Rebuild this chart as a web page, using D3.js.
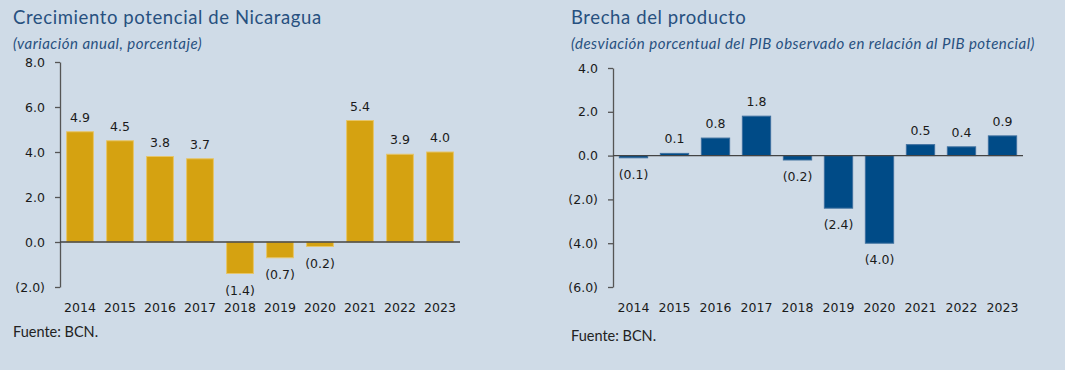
<!DOCTYPE html>
<html>
<head>
<meta charset="utf-8">
<script src="https://cdn.jsdelivr.net/npm/d3@7"></script>
<style>
  html, body { margin: 0; padding: 0; background: #cfdbe7; }
  svg { display: block; }
</style>
</head>
<body>
<div id="wrapper"></div>
<script>
const years = ["2014", "2015", "2016", "2017", "2018", "2019", "2020", "2021", "2022", "2023"]
const potentialGrowth = [4.9, 4.5, 3.8, 3.7, -1.4, -0.7, -0.2, 5.4, 3.9, 4.0]
const outputGap = [-0.1, 0.1, 0.8, 1.8, -0.2, -2.4, -4.0, 0.5, 0.4, 0.9]
const growthTicks = [8, 6, 4, 2, 0, -2]
const gapTicks = [4, 2, 0, -2, -4, -6]

window.addEventListener("load", paint)

function paint() {
    const svg = d3.select("#wrapper")
        .append("svg")
            .attr("width", 1065)
            .attr("height", 370)

    svg.append("rect").attr("width", 1065).attr("height", 370).attr("fill", "#cfdbe7")

    drawPanel(svg, {
        title: "Crecimiento potencial de Nicaragua",
        subtitle: "(variación anual, porcentaje)",
        values: potentialGrowth, ticks: growthTicks,
        domain: [-2, 8], textX: 13,
        x0: 60, x1: 460, yTop: 62, yBottom: 287,
        padding: 0.33, color: "#d5a211", edge: "#e6c56a",
        sourceY: 337
    })

    drawPanel(svg, {
        title: "Brecha del producto",
        subtitle: "(desviación porcentual del PIB observado en relación al PIB potencial)",
        values: outputGap, ticks: gapTicks,
        domain: [-6, 4], textX: 571,
        x0: 613, x1: 1023, yTop: 68, yBottom: 287,
        padding: 0.31, color: "#004b87", edge: "#3d6f9e",
        sourceY: 341
    })
}

function fmt(v) {
    return v < 0 ? "(" + d3.format(".1f")(-v) + ")" : d3.format(".1f")(v)
}

function drawPanel(svg, p) {
    const g = svg.append("g")

    g.append("text")
        .attr("x", p.textX).attr("y", 24)
        .attr("font-family", "Lato, sans-serif").attr("font-size", 18.5)
        .attr("letter-spacing", 0.6)
        .attr("fill", "#27507f")
        .text(p.title)

    g.append("text")
        .attr("x", p.textX).attr("y", 49)
        .attr("font-family", "Lato, sans-serif").attr("font-size", 15)
        .attr("font-style", "italic").attr("letter-spacing", 0.5)
        .attr("fill", "#27507f")
        .text(p.subtitle)

    const x = d3.scaleBand().domain(years).range([p.x0, p.x1]).paddingInner(p.padding).paddingOuter(p.padding / 2)
    const y = d3.scaleLinear().domain(p.domain).range([p.yBottom, p.yTop])

    // bars
    g.selectAll(".bar").data(p.values).join("rect")
        .attr("x", (d, i) => x(years[i]))
        .attr("width", x.bandwidth())
        .attr("y", d => y(Math.max(0, d)))
        .attr("height", d => Math.abs(y(d) - y(0)))
        .attr("fill", p.color)
        .attr("stroke", p.edge).attr("stroke-width", 1)

    // y axis
    const yAxis = d3.axisLeft(y).tickValues(p.ticks).tickSize(5).tickSizeOuter(0).tickFormat(fmt)
    const ya = g.append("g").attr("transform", `translate(${p.x0},0)`).call(yAxis)
    ya.select(".domain").attr("stroke", "#555").attr("stroke-width", 1.3)
    ya.selectAll(".tick line").attr("stroke", "#555").attr("stroke-width", 1.3)
    ya.selectAll(".tick text")
        .attr("font-family", "'DejaVu Sans', sans-serif").attr("font-size", 12.5)
        .attr("fill", "#1a1a1a").attr("x", -15)

    // zero line
    g.append("line")
        .attr("x1", p.x0).attr("x2", p.x1)
        .attr("y1", y(0)).attr("y2", y(0))
        .attr("stroke", "#444").attr("stroke-width", 1.3)

    // year labels
    g.selectAll(".year").data(years).join("text")
        .attr("x", d => x(d) + x.bandwidth() / 2)
        .attr("y", 312)
        .attr("text-anchor", "middle")
        .attr("font-family", "'DejaVu Sans', sans-serif").attr("font-size", 12.5)
        .attr("fill", "#1a1a1a")
        .text(d => d)

    // value labels
    g.selectAll(".val").data(p.values).join("text")
        .attr("x", (d, i) => x(years[i]) + x.bandwidth() / 2)
        .attr("y", d => d >= 0 ? y(d) - 10 : y(d) + 21)
        .attr("text-anchor", "middle")
        .attr("font-family", "'DejaVu Sans', sans-serif").attr("font-size", 12.5)
        .attr("fill", "#1a1a1a")
        .text(fmt)

    g.append("text")
        .attr("x", p.textX).attr("y", p.sourceY)
        .attr("font-family", "Lato, sans-serif").attr("font-size", 14.5)
        .attr("fill", "#222")
        .text("Fuente: BCN.")
}
</script>
</body>
</html>
